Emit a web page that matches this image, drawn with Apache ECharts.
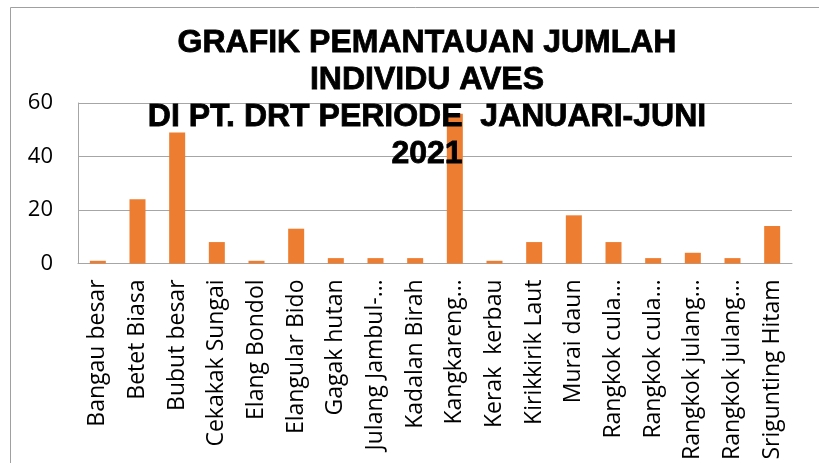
<!DOCTYPE html>
<html>
<head>
<meta charset="utf-8">
<script src="https://cdn.jsdelivr.net/npm/echarts@6/dist/echarts.min.js"></script>
<style>
  html, body { margin: 0; padding: 0; background: #fff; }
  #chart { width: 819px; height: 463px; }
</style>
</head>
<body>
<div id="chart"></div>
<script>
// nama burung (sumbu x)
const categories = [
  'Bangau besar', 'Betet Biasa', 'Bubut besar', 'Cekakak Sungai', 'Elang Bondol',
  'Elangular Bido', 'Gagak hutan', 'Julang Jambul-…', 'Kadalan Birah', 'Kangkareng…',
  'Kerak  kerbau', 'Kirikkirik Laut', 'Murai daun', 'Rangkok cula…', 'Rangkok cula…',
  'Rangkok julang…', 'Rangkok julang…', 'Srigunting Hitam'
];

// jumlah individu
const jumlah = [1, 24, 49, 8, 1, 13, 2, 2, 2, 56, 1, 8, 18, 8, 2, 4, 2, 14];

const yTicks = [0, 20, 40, 60];

const chart = echarts.init(document.getElementById('chart'));

chart.setOption({
  backgroundColor: '#ffffff',
  animation: false,
  title: {
    text: 'GRAFIK PEMANTAUAN JUMLAH\nINDIVIDU AVES\nDI PT. DRT PERIODE  JANUARI-JUNI\n2021',
    left: 422,
    top: 20,
    textAlign: 'center',
    textStyle: {
      fontFamily: 'Liberation Sans',
      fontWeight: 'bold',
      fontSize: 32,
      lineHeight: 37,
      color: '#000',
      textBorderColor: '#000',
      textBorderWidth: 0.8
    }
  },
  // bingkai luar
  graphic: [{
    type: 'rect',
    shape: { x: 10.5, y: 7.5, width: 840, height: 480 },
    style: { fill: 'none', stroke: '#a0a0a0', lineWidth: 1 },
    z: -1
  }],
  grid: {
    left: 78,
    right: 27,
    top: 103,
    bottom: 199
  },
  xAxis: {
    type: 'category',
    data: categories,
    axisLine: { show: true, lineStyle: { color: '#a6a6a6', width: 1 } },
    axisTick: { show: false },
    axisLabel: {
      rotate: 90,
      interval: 0,
      margin: 16,
      fontFamily: 'Open Sans',
      fontSize: 23,
      color: '#000'
    }
  },
  yAxis: {
    type: 'value',
    min: yTicks[0],
    max: yTicks[yTicks.length - 1],
    interval: 20,
    axisLine: { show: true, lineStyle: { color: '#a6a6a6', width: 1 } },
    axisTick: { show: false },
    axisLabel: {
      margin: 25,
      fontFamily: 'Open Sans',
      fontSize: 22,
      color: '#000'
    },
    splitLine: { lineStyle: { color: '#a6a6a6', width: 1 } }
  },
  series: [{
    type: 'bar',
    data: jumlah,
    barWidth: 16,
    itemStyle: { color: '#ED7D31' }
  }]
});
</script>
</body>
</html>
